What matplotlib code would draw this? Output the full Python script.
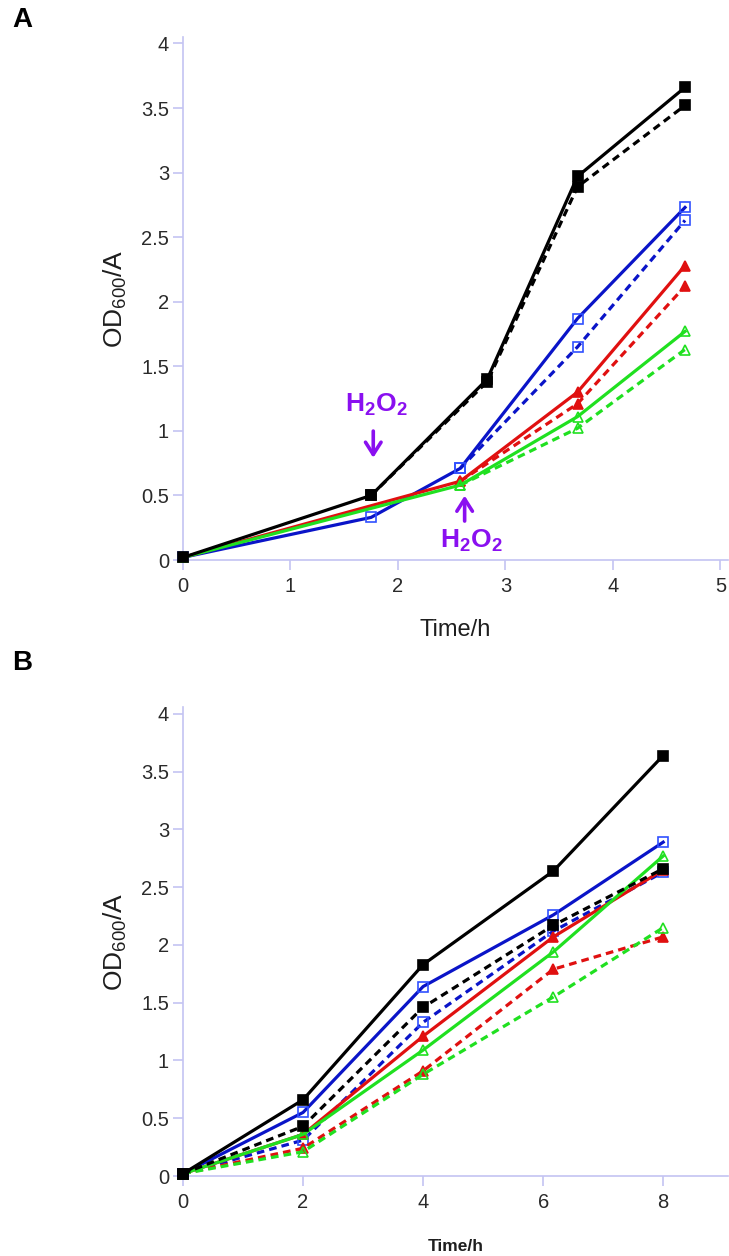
import matplotlib
matplotlib.use("Agg")
import matplotlib.pyplot as plt

plt.rcParams['font.family'] = ['Liberation Sans', 'DejaVu Sans']
plt.rcParams['mathtext.fontset'] = 'custom'
plt.rcParams['mathtext.rm'] = 'Liberation Sans'
plt.rcParams['mathtext.it'] = 'Liberation Sans:italic'
plt.rcParams['mathtext.bf'] = 'Liberation Sans:bold'

# ---------------- Panel A data ----------------
a_black_t = [0, 1.75, 2.83, 3.67, 4.67]
a_black = [0.02, 0.50, 1.40, 2.97, 3.66]
a_black_d_t = [1.75, 2.83, 3.67, 4.67]
a_black_d = [0.50, 1.38, 2.89, 3.52]

a_blue_t = [0, 1.75, 2.58, 3.67, 4.67]
a_blue = [0.02, 0.33, 0.71, 1.87, 2.73]
a_blue_d_t = [2.58, 3.67, 4.67]
a_blue_d = [0.71, 1.65, 2.63]

a_red_t = [0, 2.58, 3.67, 4.67]
a_red = [0.02, 0.61, 1.30, 2.28]
a_red_d_t = [2.58, 3.67, 4.67]
a_red_d = [0.61, 1.21, 2.12]

a_green_t = [0, 2.58, 3.67, 4.67]
a_green = [0.02, 0.58, 1.11, 1.77]
a_green_d_t = [2.58, 3.67, 4.67]
a_green_d = [0.58, 1.02, 1.63]

a_xticks = [0, 1, 2, 3, 4, 5]
yticks = [0, 0.5, 1, 1.5, 2, 2.5, 3, 3.5, 4]
ytick_labels = ['0', '0.5', '1', '1.5', '2', '2.5', '3', '3.5', '4']

# ---------------- Panel B data ----------------
b_t = [0, 2, 4, 6.17, 8]
b_black = [0.02, 0.66, 1.83, 2.64, 3.64]
b_black_d = [0.02, 0.43, 1.46, 2.17, 2.66]
b_blue = [0.02, 0.55, 1.64, 2.26, 2.89]
b_blue_d = [0.02, 0.31, 1.33, 2.12, 2.63]
b_red = [0.02, 0.36, 1.21, 2.07, 2.65]
b_red_d = [0.02, 0.24, 0.91, 1.79, 2.07]
b_green = [0.02, 0.36, 1.09, 1.94, 2.77]
b_green_d = [0.02, 0.21, 0.88, 1.55, 2.15]
b_xticks = [0, 2, 4, 6, 8]

BLACK = '#000000'
BLUE = '#0a14c8'
BLUE_M = '#3050ff'
RED = '#e01010'
GREEN = '#20e020'
AX = '#c4c4f2'
PURPLE = '#8a10f0'
TXT = '#1e1e1e'

fig = plt.figure(figsize=(7.29, 12.56), dpi=100)
W, H = 729, 1256

def make_ax(left, right, bottom_px, top_px):
    return fig.add_axes([left / W, 1 - bottom_px / H, (right - left) / W, (bottom_px - top_px) / H])

axA = make_ax(183, 728, 560, 37)
axB = make_ax(183, 728, 1176, 707)

lw = 2.3
ms = 7
dash = (0, (2.4, 1.6))

def series(ax, t, y, color, mcol, marker, filled, ls, z):
    ax.plot(t, y, color=color, lw=lw, ls=ls, marker=marker, ms=ms,
            mfc=(mcol if filled else 'none'), mec=mcol, mew=1.2,
            clip_on=False, zorder=z)

def style(ax, xlim, ylim, xticks):
    ax.set_xlim(*xlim)
    ax.set_ylim(*ylim)
    for s in ['top', 'right']:
        ax.spines[s].set_visible(False)
    for s in ['left', 'bottom']:
        ax.spines[s].set_color(AX)
        ax.spines[s].set_linewidth(1.2)
    ax.set_xticks(xticks)
    ax.set_xticklabels([str(v) for v in xticks])
    ax.set_yticks(yticks)
    ax.set_yticklabels(ytick_labels)
    ax.tick_params(direction='out', length=7, width=1.2, color=AX,
                   labelcolor='#2a2a2a', labelsize=14.5, pad=3)
    ax.tick_params(axis='x', pad=5)

# Panel A
series(axA, a_black_t, a_black, BLACK, BLACK, 's', True, '-', 5)
series(axA, a_black_d_t, a_black_d, BLACK, BLACK, 's', True, dash, 5)
series(axA, a_blue_t, a_blue, BLUE, BLUE_M, 's', False, '-', 4)
series(axA, a_blue_d_t, a_blue_d, BLUE, BLUE_M, 's', False, dash, 4)
series(axA, a_red_t, a_red, RED, RED, '^', True, '-', 4.5)
series(axA, a_red_d_t, a_red_d, RED, RED, '^', True, dash, 4.5)
series(axA, a_green_t, a_green, GREEN, GREEN, '^', False, '-', 4.6)
series(axA, a_green_d_t, a_green_d, GREEN, GREEN, '^', False, dash, 4.6)
style(axA, (0, 5.07), (0, 4.05), a_xticks)
axA.set_xlabel('Time/h', fontsize=17, color=TXT, labelpad=17)
axA.set_ylabel('OD$_{600}$/A', fontsize=19, color=TXT, labelpad=9)

# H2O2 annotations
axA.text(1.80, 1.20, r'$\mathbf{H_2O_2}$', color=PURPLE, fontsize=19,
         ha='center', va='center')
axA.annotate('', xy=(1.77, 0.77), xytext=(1.77, 1.02),
             arrowprops=dict(arrowstyle='->,head_width=0.35,head_length=0.55',
                             color=PURPLE, lw=2.6, mutation_scale=16))
axA.text(2.68, 0.15, r'$\mathbf{H_2O_2}$', color=PURPLE, fontsize=19,
         ha='center', va='center')
axA.annotate('', xy=(2.62, 0.52), xytext=(2.62, 0.28),
             arrowprops=dict(arrowstyle='->,head_width=0.35,head_length=0.55',
                             color=PURPLE, lw=2.6, mutation_scale=16))

# Panel B
series(axB, b_t, b_black, BLACK, BLACK, 's', True, '-', 5)
series(axB, b_t, b_black_d, BLACK, BLACK, 's', True, dash, 5)
series(axB, b_t, b_blue, BLUE, BLUE_M, 's', False, '-', 4)
series(axB, b_t, b_blue_d, BLUE, BLUE_M, 's', False, dash, 4)
series(axB, b_t, b_red, RED, RED, '^', True, '-', 4.5)
series(axB, b_t, b_red_d, RED, RED, '^', True, dash, 4.5)
series(axB, b_t, b_green, GREEN, GREEN, '^', False, '-', 4.6)
series(axB, b_t, b_green_d, GREEN, GREEN, '^', False, dash, 4.6)
style(axB, (0, 9.08), (0, 4.06), b_xticks)
axB.set_xlabel('Time/h', fontsize=12.5, fontweight='bold', color=TXT, labelpad=20)
axB.set_ylabel('OD$_{600}$/A', fontsize=19, color=TXT, labelpad=9)

fig.text(12 / W, 1 - 20 / H, 'A', fontsize=20, fontweight='bold', va='center', ha='left')
fig.text(12 / W, 1 - 663 / H, 'B', fontsize=20, fontweight='bold', va='center', ha='left')

fig.savefig('out.png', dpi=100)
